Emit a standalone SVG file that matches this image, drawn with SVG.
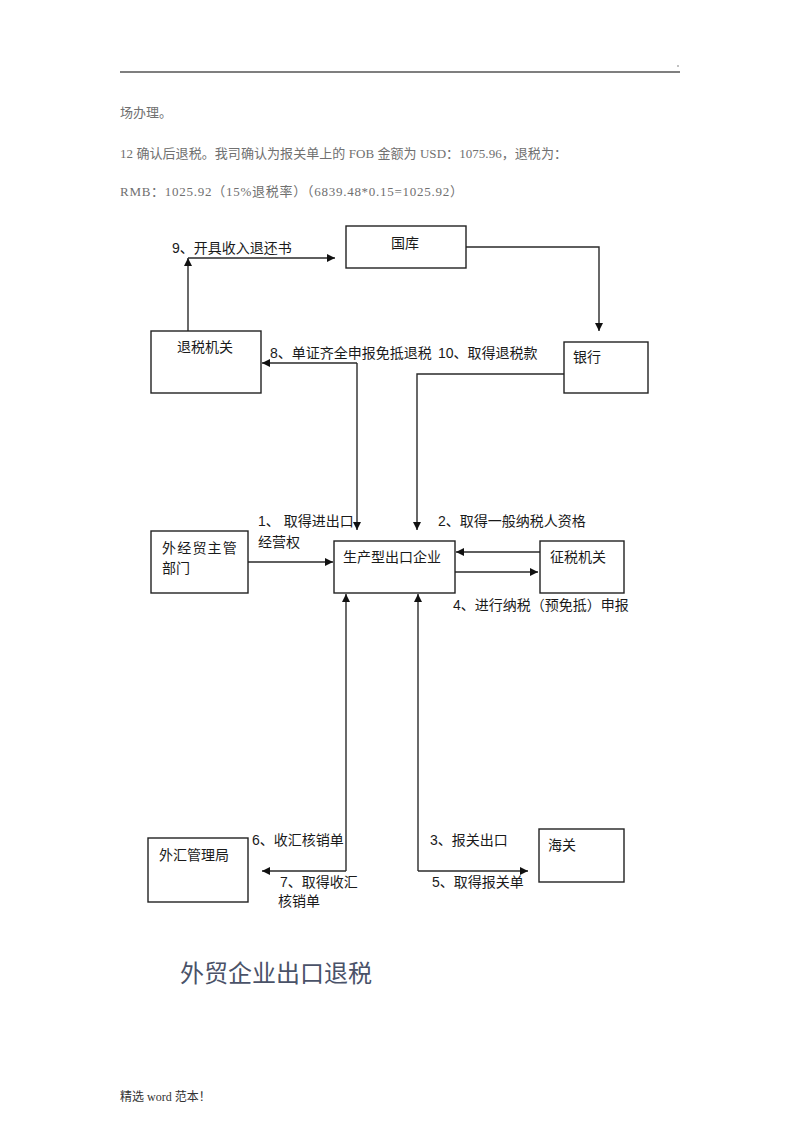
<svg xmlns="http://www.w3.org/2000/svg" width="800" height="1132" viewBox="0 0 800 1132">
<style>
.box{fill:#fff;stroke:#222;stroke-width:1.4}
.con{fill:none;stroke:#2a2a2a;stroke-width:1.4}
.t{font-family:"Liberation Sans","Noto Sans CJK SC",sans-serif;font-size:14px;fill:#1a1a1a}
.p{font-family:"Liberation Serif","Noto Sans CJK SC",serif;font-size:13px;fill:#707070}
.title{font-family:"Noto Sans CJK SC",sans-serif;font-size:24px;fill:#4a5268}
.foot{font-family:"Liberation Serif","Noto Sans CJK SC",serif;font-size:12px;fill:#333}
</style>
<defs>
<marker id="ah" viewBox="0 0 10 10" refX="10" refY="5" markerWidth="9" markerHeight="8" markerUnits="userSpaceOnUse" orient="auto">
<path d="M0,0 L10,5 L0,10 z" fill="#111"/>
</marker>
</defs>
<rect width="800" height="1132" fill="#fff"/>

<g id="header">
<line x1="120" y1="72" x2="680" y2="72" stroke="#555" stroke-width="1.6"/>
<circle cx="678" cy="66" r="0.7" fill="#555"/>
<text class="p" x="120" y="117">场办理。</text>
<text class="p" x="120" y="158" textLength="447" lengthAdjust="spacing">12 确认后退税。我司确认为报关单上的 FOB 金额为 USD：1075.96，退税为：</text>
<text class="p" x="120" y="196" textLength="343" lengthAdjust="spacing">RMB：1025.92（15%退税率）（6839.48*0.15=1025.92）</text>
</g>

<g id="connectors">
<path class="con" d="M188,331 V258" marker-end="url(#ah)"/>
<path class="con" d="M188,258 H335" marker-end="url(#ah)"/>
<path class="con" d="M466,247 H599 V331" marker-end="url(#ah)"/>
<path class="con" d="M357,363 H262" marker-end="url(#ah)"/>
<path class="con" d="M357,363 V530" marker-end="url(#ah)"/>
<path class="con" d="M564,374 H417 V530" marker-end="url(#ah)"/>
<path class="con" d="M248,562 H333" marker-end="url(#ah)"/>
<path class="con" d="M540,552 H456" marker-end="url(#ah)"/>
<path class="con" d="M455,572 H538" marker-end="url(#ah)"/>
<path class="con" d="M346,871 V594" marker-end="url(#ah)"/>
<path class="con" d="M346,871 H262" marker-end="url(#ah)"/>
<path class="con" d="M418,871 V594" marker-end="url(#ah)"/>
<path class="con" d="M418,871 H528" marker-end="url(#ah)"/>
</g>

<g id="labels">
<text class="t" x="172" y="253">9、开具收入退还书</text>
<text class="t" x="270" y="358">8、单证齐全申报免抵退税</text>
<text class="t" x="438" y="358">10、取得退税款</text>
<text class="t" x="258" y="526">1、 取得进出口</text>
<text class="t" x="258" y="547">经营权</text>
<text class="t" x="438" y="526">2、取得一般纳税人资格</text>
<text class="t" x="453" y="610">4、进行纳税（预免抵）申报</text>
<text class="t" x="252" y="845">6、收汇核销单</text>
<text class="t" x="280" y="887">7、取得收汇</text>
<text class="t" x="278" y="906">核销单</text>
<text class="t" x="430" y="845">3、报关出口</text>
<text class="t" x="432" y="887">5、取得报关单</text>
</g>

<g id="n-guoku">
<rect class="box" x="346" y="226" width="120" height="42"/>
<text class="t" x="391" y="248">国库</text>
</g>
<g id="n-tuishui">
<rect class="box" x="151" y="331" width="110" height="62"/>
<text class="t" x="177" y="352">退税机关</text>
</g>
<g id="n-yinhang">
<rect class="box" x="564" y="342" width="84" height="51"/>
<text class="t" x="573" y="362">银行</text>
</g>
<g id="n-waijingmao">
<rect class="box" x="151" y="531" width="97" height="62"/>
<text class="t" x="162" y="553" letter-spacing="1.2">外经贸主管</text>
<text class="t" x="162" y="573">部门</text>
</g>
<g id="n-qiye">
<rect class="box" x="334" y="541" width="121" height="52"/>
<text class="t" x="343" y="562">生产型出口企业</text>
</g>
<g id="n-zhengshui">
<rect class="box" x="540" y="541" width="84" height="52"/>
<text class="t" x="550" y="562">征税机关</text>
</g>
<g id="n-waihui">
<rect class="box" x="148" y="838" width="100" height="64"/>
<text class="t" x="159" y="860">外汇管理局</text>
</g>
<g id="n-haiguan">
<rect class="box" x="539" y="829" width="85" height="53"/>
<text class="t" x="548" y="850">海关</text>
</g>

<g id="footer">
<text class="title" x="180" y="982">外贸企业出口退税</text>
<text class="foot" x="120" y="1101">精选 word 范本！</text>
</g>
</svg>
